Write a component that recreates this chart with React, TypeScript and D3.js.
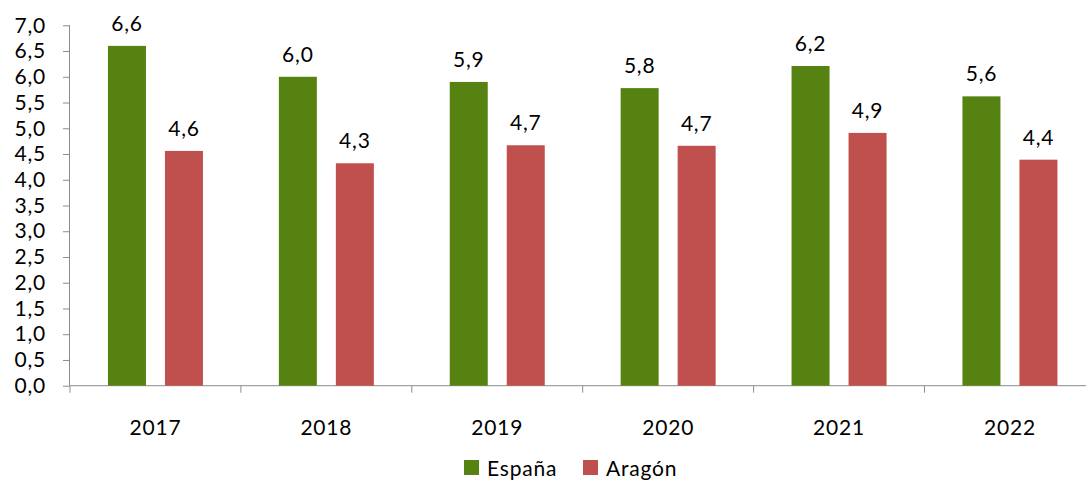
import * as d3 from "d3";
import React from "react";

// values
const years = ["2017", "2018", "2019", "2020", "2021", "2022"];
const espana = [6.6, 6.0, 5.9, 5.78, 6.21, 5.62];
const aragon = [4.56, 4.32, 4.67, 4.66, 4.91, 4.39];
const seriesNames = ["España", "Aragón"];
const colours = ["#568211", "#C0504D"];
const yTicks = [0, 0.5, 1, 1.5, 2, 2.5, 3, 3.5, 4, 4.5, 5, 5.5, 6, 6.5, 7];

const W = 1086;
const H = 481;
const font = "Lato, 'Open Sans', sans-serif";
const fs = "21px";
const ls = "0.8px";

export default function App() {
  const ref = React.useRef<SVGSVGElement>(null);

  React.useEffect(() => {
    const svg = d3.select(ref.current);
    svg.selectAll("*").remove();

    const left = 70;
    const step = 170.9;
    const top = 25.3;
    const bottom = 385.7;

    const x = d3
      .scaleBand()
      .domain(years)
      .range([left, left + step * years.length]);
    const y = d3.scaleLinear().domain([0, 7]).range([bottom, top]);
    const fmt = (v: number) => d3.format(".1f")(v).replace(".", ",");

    // y axis
    const yAxis = svg
      .append("g")
      .attr("transform", `translate(${left},0)`)
      .call(
        d3
          .axisLeft(y)
          .tickValues(yTicks)
          .tickSize(7)
          .tickPadding(17)
          .tickFormat((d) => fmt(d as number))
      );
    yAxis.select(".domain").attr("stroke", "#8c8c8c").attr("d", `M-0.5,${top}V${bottom}`);
    yAxis.selectAll(".tick line").attr("stroke", "#8c8c8c");
    yAxis
      .selectAll(".tick text")
      .attr("fill", "#000")
      .style("font-family", font)
      .style("font-size", fs)
      .style("letter-spacing", ls);

    // x axis baseline and boundary ticks
    const xg = svg.append("g");
    xg.append("line")
      .attr("x1", left)
      .attr("x2", W)
      .attr("y1", bottom)
      .attr("y2", bottom)
      .attr("stroke", "#8c8c8c");
    xg.selectAll("line.tk")
      .data(d3.range(years.length + 1))
      .enter()
      .append("line")
      .attr("class", "tk")
      .attr("x1", (i) => left + i * x.step())
      .attr("x2", (i) => left + i * x.step())
      .attr("y1", bottom)
      .attr("y2", bottom + 7)
      .attr("stroke", "#8c8c8c");
    xg.selectAll("text")
      .data(years)
      .enter()
      .append("text")
      .attr("x", (d) => (x(d) as number) + x.bandwidth() / 2)
      .attr("y", 435)
      .attr("text-anchor", "middle")
      .style("font-family", font)
      .style("font-size", fs)
      .style("letter-spacing", ls)
      .text((d) => d);

    // bars
    const barW = 38;
    const gap = 19;
    const data = [espana, aragon];
    data.forEach((vals, s) => {
      const off = s === 0 ? -(gap / 2 + barW) : gap / 2;
      const g = svg.append("g");
      g.selectAll("rect")
        .data(vals)
        .enter()
        .append("rect")
        .attr("x", (_, i) => (x(years[i]) as number) + x.bandwidth() / 2 + off)
        .attr("y", (d) => y(d))
        .attr("width", barW)
        .attr("height", (d) => bottom - y(d))
        .attr("fill", colours[s]);
      g.selectAll("text")
        .data(vals)
        .enter()
        .append("text")
        .attr("x", (_, i) => (x(years[i]) as number) + x.bandwidth() / 2 + off + barW / 2)
        .attr("y", (d) => y(d) - 15)
        .attr("text-anchor", "middle")
        .style("font-family", font)
        .style("font-size", fs)
        .style("letter-spacing", ls)
        .text((d) => fmt(d));
    });

    // legend
    const legendX = [464, 583];
    seriesNames.forEach((name, i) => {
      svg
        .append("rect")
        .attr("x", legendX[i])
        .attr("y", 460)
        .attr("width", 15)
        .attr("height", 15)
        .attr("fill", colours[i]);
      svg
        .append("text")
        .attr("x", legendX[i] + 23)
        .attr("y", 476)
        .style("font-family", font)
        .style("font-size", fs)
        .style("letter-spacing", ls)
        .text(name);
    });
  }, []);

  return (
    <svg
      ref={ref}
      width={W}
      height={H}
      style={{ position: "absolute", left: 0, top: 0, background: "#fff" }}
    />
  );
}
